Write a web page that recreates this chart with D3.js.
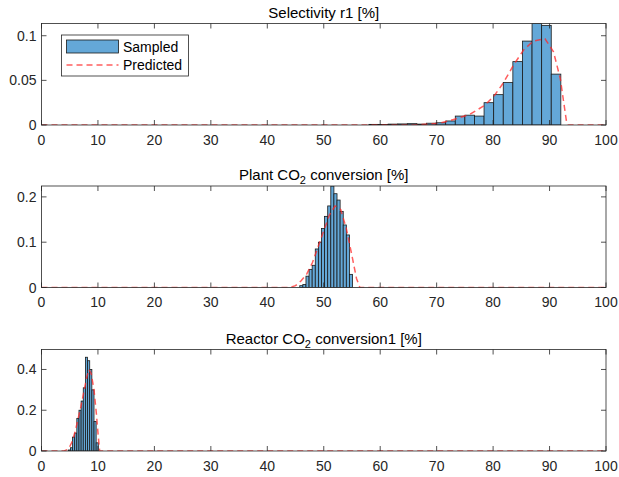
<!DOCTYPE html>
<html>
<head>
<meta charset="utf-8">
<script src="https://cdn.jsdelivr.net/npm/d3@7"></script>
<style>
  body { margin: 0; background: #fff; }
  svg { display: block; font-family: "Liberation Sans", Arial, sans-serif; }
</style>
</head>
<body>
<div class="chart"></div>
<script>
// tick labels
const xTicks = [0, 10, 20, 30, 40, 50, 60, 70, 80, 90, 100];
const yTicks1 = [0, 0.05, 0.1];
const yTicks2 = [0, 0.1, 0.2];
const yTicks3 = [0, 0.2, 0.4];

// Selectivity r1 - sampled histogram (pdf)
const binStart1 = 58.0, binWidth1 = 1.7;
const sampled1 = [0.0007, 0.0005, 0.001, 0.0012, 0.0015, 0.001, 0.002, 0.0025,
  0.0045, 0.010, 0.011, 0.010, 0.025, 0.034, 0.0475, 0.071, 0.094, 0.1137, 0.1116, 0.057];
const predX1 = [0, 66, 68, 70.6, 73.3, 75.9, 78.5, 80.1, 81.8, 83.6, 85.4, 87.1, 89.2, 90.7, 91.9, 93.0, 93.3, 100];
const predY1 = [0, 0, 0.0008, 0.002, 0.0067, 0.012, 0.022, 0.032, 0.047, 0.067, 0.084, 0.094, 0.0966, 0.082, 0.052, 0.004, 0, 0];

// Plant CO2 conversion
const binStart2 = 45.75, binWidth2 = 0.55;
const sampled2 = [0.004, 0.0066, 0.025, 0.04, 0.049, 0.085, 0.10, 0.13, 0.157, 0.18,
  0.224, 0.207, 0.193, 0.168, 0.138, 0.116, 0.029];
const predX2 = [0, 44, 45, 46, 47, 48, 49, 50, 51, 52, 53, 54, 55, 55.8, 56.4, 100];
const predY2 = [0, 0, 0.004, 0.015, 0.03, 0.055, 0.09, 0.125, 0.16, 0.18, 0.172, 0.13, 0.07, 0.02, 0, 0];

// Reactor CO2 conversion1
const binStart3 = 4.74, binWidth3 = 0.38;
const sampled3 = [0.005, 0.016, 0.068, 0.088, 0.16, 0.2, 0.245, 0.31, 0.46, 0.443, 0.40, 0.30, 0.145, 0.04];
const predX3 = [0, 4, 4.8, 5.5, 6, 6.5, 7, 7.5, 8, 8.4, 8.8, 9.3, 9.7, 10.0, 10.3, 100];
const predY3 = [0, 0, 0.01, 0.05, 0.1, 0.16, 0.22, 0.29, 0.36, 0.40, 0.38, 0.30, 0.19, 0.09, 0, 0];

const W = 619, H = 477;
const left = 41.5, right = 606;
const axH = 101.5;
const axColor = "#262626";
const barFill = "#64a8d8";
const predColor = "rgba(255,40,40,0.75)";

const panels = [
  {top: 23.5, ymax: 0.1137, yTicks: yTicks1, start: binStart1, w: binWidth1, vals: sampled1,
   px: predX1, py: predY1, title: ["Selectivity r1 [%]"], legend: true},
  {top: 186, ymax: 0.224, yTicks: yTicks2, start: binStart2, w: binWidth2, vals: sampled2,
   px: predX2, py: predY2, title: ["Plant CO", "2", " conversion [%]"]},
  {top: 349.5, ymax: 0.498, yTicks: yTicks3, start: binStart3, w: binWidth3, vals: sampled3,
   px: predX3, py: predY3, title: ["Reactor CO", "2", " conversion1 [%]"]}
];

const svg = d3.select('.chart').append('svg')
  .attr('width', W).attr('height', H);
svg.append('rect').attr('width', W).attr('height', H).attr('fill', '#fff');

const x = d3.scaleLinear().domain([0, 100]).range([left, right]);

panels.forEach((p, i) => {
  const bottom = p.top + axH;
  const y = d3.scaleLinear().domain([0, p.ymax]).range([bottom, p.top]);
  const g = svg.append('g');

  g.append('clipPath').attr('id', 'clip' + i)
    .append('rect').attr('x', left).attr('y', p.top)
    .attr('width', right - left).attr('height', axH);

  const plot = g.append('g').attr('clip-path', 'url(#clip' + i + ')');

  plot.selectAll('.bar').data(p.vals).enter()
    .append('rect')
    .attr('class', 'bar')
    .attr('x', (d, k) => x(p.start + k * p.w))
    .attr('width', (d, k) => x(p.start + (k + 1) * p.w) - x(p.start + k * p.w))
    .attr('y', d => y(d))
    .attr('height', d => bottom - y(d))
    .attr('fill', barFill)
    .attr('stroke', '#1a1a1a')
    .attr('stroke-width', 0.8);

  const line = d3.line().x(d => x(d[0])).y(d => y(d[1]));
  plot.append('path')
    .datum(p.px.map((v, k) => [v, p.py[k]]))
    .attr('d', line)
    .attr('fill', 'none')
    .attr('stroke', predColor)
    .attr('stroke-width', 1.5)
    .attr('stroke-dasharray', '6,4');

  // box
  g.append('rect')
    .attr('x', left).attr('y', p.top)
    .attr('width', right - left).attr('height', axH)
    .attr('fill', 'none').attr('stroke', axColor).attr('stroke-width', 0.8);

  // x ticks (inward, bottom and top)
  const tl = 5;
  xTicks.forEach(t => {
    g.append('line').attr('x1', x(t)).attr('x2', x(t))
      .attr('y1', bottom).attr('y2', bottom - tl)
      .attr('stroke', axColor).attr('stroke-width', 0.8);
    g.append('line').attr('x1', x(t)).attr('x2', x(t))
      .attr('y1', p.top).attr('y2', p.top + tl)
      .attr('stroke', axColor).attr('stroke-width', 0.8);
    g.append('text').attr('x', x(t)).attr('y', bottom + 19.5)
      .attr('text-anchor', 'middle').attr('font-size', 14).attr('fill', axColor)
      .text(t);
  });

  p.yTicks.forEach(t => {
    g.append('line').attr('x1', left).attr('x2', left + tl)
      .attr('y1', y(t)).attr('y2', y(t))
      .attr('stroke', axColor).attr('stroke-width', 0.8);
    g.append('line').attr('x1', right).attr('x2', right - tl)
      .attr('y1', y(t)).attr('y2', y(t))
      .attr('stroke', axColor).attr('stroke-width', 0.8);
    g.append('text').attr('x', left - 5).attr('y', y(t) + 5)
      .attr('text-anchor', 'end').attr('font-size', 14).attr('fill', axColor)
      .text(t);
  });

  // title with optional subscript
  const title = g.append('text')
    .attr('x', (left + right) / 2).attr('y', p.top - 6)
    .attr('text-anchor', 'middle').attr('font-size', 15).attr('fill', '#000');
  title.append('tspan').text(p.title[0]);
  if (p.title.length > 1) {
    title.append('tspan').attr('dy', 4).attr('font-size', 11).text(p.title[1]);
    title.append('tspan').attr('dy', -4).text(p.title[2]);
  }

  if (p.legend) {
    const lg = g.append('g');
    lg.append('rect').attr('x', 61.5).attr('y', 35).attr('width', 127).attr('height', 41)
      .attr('fill', '#fff').attr('stroke', axColor).attr('stroke-width', 0.8);
    lg.append('rect').attr('x', 66.5).attr('y', 40).attr('width', 52).attr('height', 13)
      .attr('fill', barFill).attr('stroke', '#1a1a1a').attr('stroke-width', 0.8);
    lg.append('text').attr('x', 123).attr('y', 52).attr('font-size', 14).attr('fill', '#000')
      .text('Sampled');
    lg.append('line').attr('x1', 66.5).attr('x2', 118.5).attr('y1', 65).attr('y2', 65)
      .attr('stroke', predColor).attr('stroke-width', 1.5).attr('stroke-dasharray', '6,4');
    lg.append('text').attr('x', 123).attr('y', 70).attr('font-size', 14).attr('fill', '#000')
      .text('Predicted');
  }
});
</script>
</body>
</html>
